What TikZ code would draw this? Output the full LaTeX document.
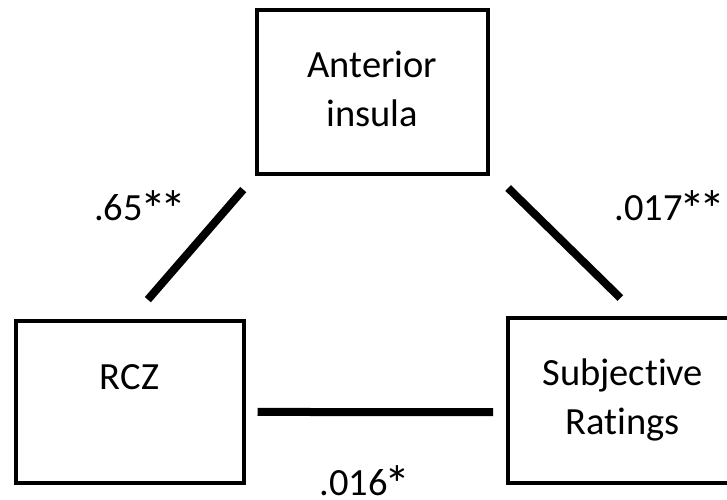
\documentclass[tikz,border=0pt]{standalone}
\usepackage{fontspec}
\setmainfont{Carlito}[Ligatures={NoCommon,NoContextual}]
\usetikzlibrary{calc}
% a larger asterisk, centred at cap height, for significance marks
\newcommand\sigstar{\makebox[0.52em]{\raisebox{-0.2em}{\scalebox{1.35}{*}}}}
\begin{document}
\begin{tikzpicture}[x=1pt,y=-1pt,
  txt/.style={font=\fontsize{38.5}{49}\selectfont},
  box/.style={txt, draw, line width=4pt, fill=white, outer sep=0pt,
    inner sep=0pt, align=center},
  link/.style={line width=8pt},
  coef/.style={txt, inner sep=0pt}]
\useasboundingbox (0,0) rectangle (727,499);
\clip (0,0) rectangle (727,499);
\fill[white] (0,0) rectangle (727,499);

% the three regions
\node[box, minimum width=230.5pt, minimum height=163.4pt] (ai) at (372.25,92) {Anterior\\insula\vphantom{g}};
\node[box, minimum width=228pt, minimum height=162.2pt] (rcz) at (129.5,401.9) {RCZ\\\mbox{}};
\node[box, minimum width=230.5pt, minimum height=164.5pt] (sr) at (622.75,400.25) {Subjective\\Ratings};

% paths between them
\draw[link, shorten <=21pt, shorten >=28pt] (ai.south west) -- (rcz.north);
\draw[link, shorten <=20.4pt, shorten >=28.6pt] ($(ai.south east)+(6,0)$) -- ($(sr.north)+(18,0)$);
\draw[link, shorten <=14pt, shorten >=14.5pt] ($(rcz.east)+(0,10)$) -- ($(sr.west)+(0,12)$);

% path coefficients
\node[coef, anchor=base west] (c1) at (94,220) {.65\sigstar\sigstar};
\node[coef, anchor=base east] (c2) at (723,220) {.017\sigstar\sigstar};
\node[coef, anchor=base east] (c3) at (408,495) {.016\sigstar};
\end{tikzpicture}
\end{document}
